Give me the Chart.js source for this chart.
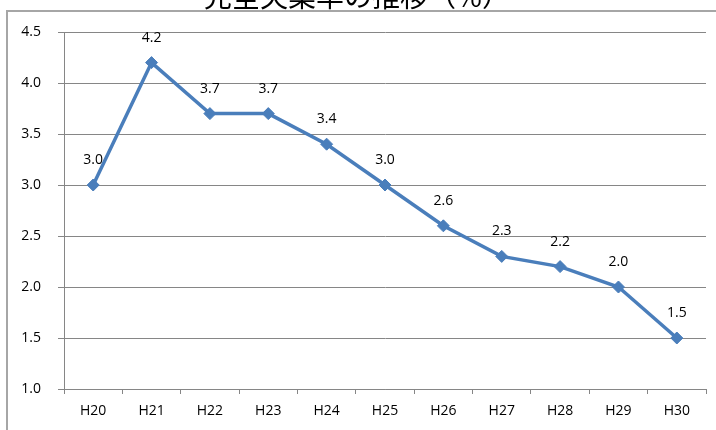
<!DOCTYPE html>
<html>
<head>
<meta charset="utf-8">
<script src="https://cdn.jsdelivr.net/npm/chart.js@4"></script>
<style>
  html, body { margin: 0; padding: 0; background: #fff; }
  #wrap { position: relative; width: 716px; height: 430px; overflow: hidden; }
</style>
</head>
<body>
<div id="wrap"><canvas id="chart" width="716" height="430"></canvas></div>
<script>
// Chart data
const chartTitle = '完全失業率の推移（%）';
const categories = ['H20', 'H21', 'H22', 'H23', 'H24', 'H25', 'H26', 'H27', 'H28', 'H29', 'H30'];
const rates = [3.0, 4.2, 3.7, 3.7, 3.4, 3.0, 2.6, 2.3, 2.2, 2.0, 1.5];

const LINE_COLOR = '#4a7ebb';
const GRID_COLOR = '#868686';
const FONT = "'Open Sans', 'Liberation Sans', sans-serif";

// Frame + cut-off title at the very top
const framePlugin = {
  id: 'frame',
  beforeDraw(chart) {
    const ctx = chart.ctx;
    ctx.save();
    ctx.fillStyle = '#ffffff';
    ctx.fillRect(0, 0, chart.width, chart.height);
    ctx.strokeStyle = '#a6a6a6';
    ctx.lineWidth = 2;
    ctx.beginPath();
    ctx.moveTo(7, chart.height);
    ctx.lineTo(7, 11);
    ctx.lineTo(chart.width, 11);
    ctx.stroke();
    ctx.font = "28px 'Noto Sans CJK JP', sans-serif";
    ctx.fillStyle = '#000';
    ctx.textAlign = 'center';
    ctx.textBaseline = 'alphabetic';
    ctx.fillText(chartTitle, 357, 7);
    ctx.restore();
  }
};

// Value labels above each point
const valueLabels = {
  id: 'valueLabels',
  afterDatasetsDraw(chart) {
    const ctx = chart.ctx;
    const meta = chart.getDatasetMeta(0);
    ctx.save();
    ctx.font = '14px ' + FONT;
    ctx.fillStyle = '#000';
    ctx.textAlign = 'center';
    ctx.textBaseline = 'middle';
    meta.data.forEach((pt, i) => {
      ctx.fillText(rates[i].toFixed(1), pt.x, pt.y - 25);
    });
    ctx.restore();
  }
};

new Chart(document.getElementById('chart'), {
  type: 'line',
  data: {
    labels: categories,
    datasets: [{
      data: rates,
      borderColor: LINE_COLOR,
      backgroundColor: LINE_COLOR,
      borderWidth: 3.5,
      tension: 0,
      pointStyle: 'rectRot',
      pointRadius: 6,
      pointBackgroundColor: LINE_COLOR,
      pointBorderColor: LINE_COLOR,
      pointBorderWidth: 1
    }]
  },
  options: {
    responsive: false,
    animation: false,
    layout: { padding: { left: 0, right: 10, top: 32, bottom: 0 } },
    plugins: {
      legend: { display: false },
      tooltip: { enabled: false }
    },
    scales: {
      x: {
        offset: true,
        grid: {
          offset: true,
          drawOnChartArea: false,
          color: GRID_COLOR,
          tickLength: 5
        },
        border: { display: true, color: GRID_COLOR },
        ticks: { color: '#000', font: { size: 14, family: FONT }, padding: 9 },
        afterFit: scale => { scale.height = 41; }
      },
      y: {
        min: 1.0,
        max: 4.5,
        grid: { color: GRID_COLOR, tickLength: 6 },
        border: { display: true, color: GRID_COLOR },
        ticks: {
          stepSize: 0.5,
          color: '#000',
          font: { size: 14, family: FONT },
          padding: 17,
          callback: v => Number(v).toFixed(1)
        },
        afterFit: scale => { scale.width = 64; }
      }
    }
  },
  plugins: [framePlugin, valueLabels]
});
</script>
</body>
</html>
